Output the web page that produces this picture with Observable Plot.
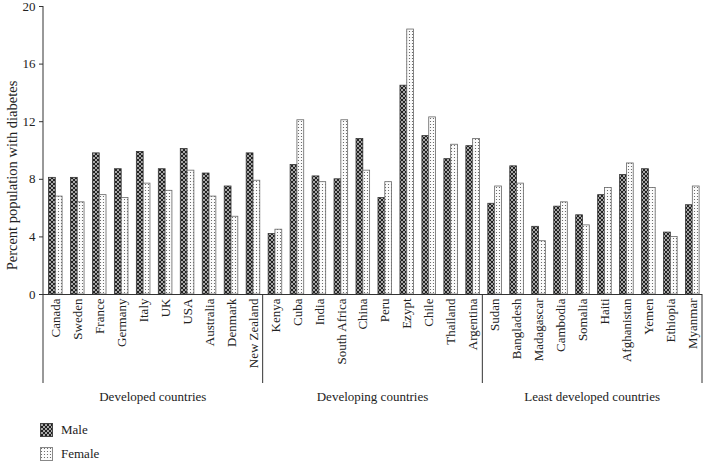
<!DOCTYPE html>
<html>
<head>
<meta charset="utf-8">
<script src="https://cdn.jsdelivr.net/npm/d3@7"></script>
<script src="https://cdn.jsdelivr.net/npm/@observablehq/plot@0.6"></script>
<style>
  body { margin: 0; background: #fff; font-family: "Liberation Serif", "DejaVu Serif", serif; color: #222; }
  #chart svg { overflow: visible; }
  .legend { margin-left: 40px; padding-top: 8px; font-size: 13px; }
  .legend .row { display: flex; align-items: center; height: 24px; }
  .legend svg { margin-right: 8px; }
</style>
</head>
<body>
<svg width="0" height="0" style="position:absolute">
  <defs>
    <pattern id="pMale" width="4" height="4" patternUnits="userSpaceOnUse">
      <rect width="4" height="4" fill="#222"></rect>
      <circle cx="0" cy="0" r="0.95" fill="#e0e0e0"></circle>
      <circle cx="4" cy="0" r="0.95" fill="#e0e0e0"></circle>
      <circle cx="0" cy="4" r="0.95" fill="#e0e0e0"></circle>
      <circle cx="4" cy="4" r="0.95" fill="#e0e0e0"></circle>
      <circle cx="2" cy="2" r="0.95" fill="#e0e0e0"></circle>
    </pattern>
    <pattern id="pFemale" width="3" height="3" patternUnits="userSpaceOnUse">
      <rect width="3" height="3" fill="#fbfbfb"></rect>
      <circle cx="1.5" cy="1.5" r="0.6" fill="#555"></circle>
    </pattern>
  </defs>
</svg>
<div id="chart"></div>
<div class="legend">
  <div class="row"><svg width="13" height="14"><rect x="0.5" y="0.5" width="12" height="13" fill="url(#pMale)" stroke="#444"></rect></svg><span>Male</span></div>
  <div class="row"><svg width="13" height="14"><rect x="0.5" y="0.5" width="12" height="13" fill="url(#pFemale)" stroke="#888"></rect></svg><span>Female</span></div>
</div>
<script>
const developed = ["Canada","Sweden","France","Germany","Italy","UK","USA","Australia","Denmark","New Zealand"];
const developing = ["Kenya","Cuba","India","South Africa","China","Peru","Ezypt","Chile","Thailand","Argentina"];
const leastDeveloped = ["Sudan","Bangladesh","Madagascar","Cambodia","Somalia","Haiti","Afghanistan","Yemen","Ethiopia","Myanmar"];
const groupNames = ["Developed countries","Developing countries","Least developed countries"];

const maleDeveloped = [8.1,8.1,9.8,8.7,9.9,8.7,10.1,8.4,7.5,9.8];
const femaleDeveloped = [6.8,6.4,6.9,6.7,7.7,7.2,8.6,6.8,5.4,7.9];
const maleDeveloping = [4.2,9.0,8.2,8.0,10.8,6.7,14.5,11.0,9.4,10.3];
const femaleDeveloping = [4.5,12.1,7.8,12.1,8.6,7.8,18.4,12.3,10.4,10.8];
const maleLeast = [6.3,8.9,4.7,6.1,5.5,6.9,8.3,8.7,4.3,6.2];
const femaleLeast = [7.5,7.7,3.7,6.4,4.8,7.4,9.1,7.4,4.0,7.5];

const yTicks = [0,4,8,12,16,20];
const yLabel = "Percent population with diabetes";

const groups = [developed, developing, leastDeveloped];
const maleAll = [maleDeveloped, maleDeveloping, maleLeast];
const femaleAll = [femaleDeveloped, femaleDeveloping, femaleLeast];
const countries = groups.flat();
const rows = [];
groups.forEach((g, gi) => g.forEach((c, i) => {
  rows.push({country: c, sex: "Male", value: maleAll[gi][i]});
  rows.push({country: c, sex: "Female", value: femaleAll[gi][i]});
}));
const male = rows.filter(d => d.sex === "Male");
const female = rows.filter(d => d.sex === "Female");

const W = 703, H = 410, ML = 43, MR = 1, MT = 6, MB = 116;
const step = (W - ML - MR) / countries.length;
const barW = 6.8, shift = 1.3;

// group separators + y axis line, and group labels (drawn from the plot's scales)
function groupDecor(index, scales, values, dim) {
  const x = scales.x, y = scales.y;
  const g = d3.create("svg:g");
  const bottom = y(0);
  const lineEnd = bottom + 89;
  const firsts = groups.map(gr => gr[0]);
  firsts.forEach((c, i) => {
    const xx = x(c);
    g.append("line").attr("x1", xx).attr("x2", xx)
      .attr("y1", i === 0 ? y(20) : bottom).attr("y2", lineEnd)
      .attr("stroke", "#333").attr("stroke-width", 1);
  });
  const last = groups[groups.length - 1];
  const xr = x(last[last.length - 1]) + step;
  g.append("line").attr("x1", xr).attr("x2", xr).attr("y1", bottom).attr("y2", lineEnd)
    .attr("stroke", "#333").attr("stroke-width", 1);
  groups.forEach((gr, i) => {
    const cx = (x(gr[0]) + x(gr[gr.length - 1]) + step) / 2;
    g.append("text").attr("x", cx).attr("y", lineEnd + 18)
      .attr("text-anchor", "middle").attr("font-size", 13).attr("fill", "#222")
      .text(groupNames[i]);
  });
  return g.node();
}

const chart = Plot.plot({
  width: W, height: H,
  marginLeft: ML, marginRight: MR, marginTop: MT, marginBottom: MB,
  style: {fontFamily: "'Liberation Serif', 'DejaVu Serif', serif", fontSize: "13px", color: "#222", background: "white"},
  x: {domain: countries, padding: 0, round: false},
  y: {domain: [0, 20], ticks: yTicks},
  marks: [
    Plot.barY(male, {x: "country", y: "value", fill: "url(#pMale)", stroke: "#333", strokeWidth: 0.8,
      insetLeft: step / 2 - barW + shift, insetRight: step / 2 - shift}),
    Plot.barY(female, {x: "country", y: "value", fill: "url(#pFemale)", stroke: "#666", strokeWidth: 0.8,
      insetLeft: step / 2 + shift, insetRight: step / 2 - barW - shift}),
    Plot.ruleY([0], {stroke: "#333"}),
    Plot.axisY({ticks: yTicks, tickSize: 4, tickPadding: 4, label: null, stroke: "#333", fontSize: 13}),
    Plot.axisX({tickSize: 0, tickPadding: 4, tickRotate: -90, label: null, fontSize: 13, dx: shift}),
    Plot.text([yLabel], {frameAnchor: "left", textAnchor: "middle", dx: -31, dy: 25, rotate: -90, fontSize: 14.5, fill: "#222"}),
    groupDecor
  ]
});
document.getElementById("chart").appendChild(chart);
</script>
</body>
</html>
